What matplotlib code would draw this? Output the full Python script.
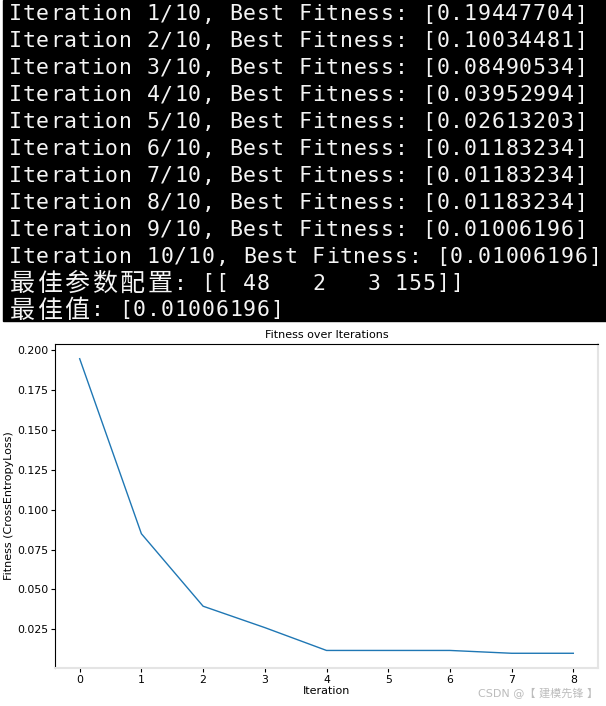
import numpy as np
import matplotlib.pyplot as plt
from matplotlib.patches import Rectangle

# data printed in the terminal
n_iter = 10
best_fitness = [0.19447704, 0.10034481, 0.08490534, 0.03952994, 0.02613203,
                0.01183234, 0.01183234, 0.01183234, 0.01006196, 0.01006196]
best_params = [48, 2, 3, 155]
best_value = 0.01006196

# data drawn in the plot
plot_iter = [0, 1, 2, 3, 4, 5, 6, 7, 8]
plot_fitness = [0.19447704, 0.08490534, 0.03952994, 0.02613203, 0.01183234,
                0.01183234, 0.01183234, 0.01006196, 0.01006196]

W, H = 606, 706
fig = plt.figure(figsize=(W / 100, H / 100), dpi=100)

# terminal screenshot part (pixel coords)
ax_t = fig.add_axes([0, 0, 1, 1])
ax_t.set_xlim(0, W)
ax_t.set_ylim(H, 0)
ax_t.set_axis_off()
ax_t.add_patch(Rectangle((3, 0), W - 3, 321, color='black', zorder=0))

lines = [f"Iteration {i + 1}/{n_iter}, Best Fitness: [{v:.8f}]"
         for i, v in enumerate(best_fitness)]
params_str = "[[" + " ".join(f"{p:3d}" for p in best_params) + "]]"
lines.append("最佳参数配置: " + params_str)
lines.append(f"最佳值: [{best_value:.8f}]")

col_w = 13.8
x0 = 8
y_first = 20.5
line_h = 26.9
fg = '#f4f4f4'


def draw_line(s, y):
    col = 0
    for ch in s:
        wide = ord(ch) > 0x2e80
        ncol = 2 if wide else 1
        if ch != ' ':
            xc = x0 + (col + ncol / 2) * col_w
            if wide:
                ax_t.text(xc, y + 1.5, ch, color=fg, fontsize=18,
                          family=['Noto Sans CJK SC', 'DejaVu Sans'],
                          ha='center', va='baseline')
            else:
                ax_t.text(xc, y, ch, color=fg, fontsize=15.5,
                          family=['DejaVu Sans Mono', 'Noto Sans CJK SC'],
                          ha='center', va='baseline')
        col += ncol


for i, s in enumerate(lines):
    draw_line(s, y_first + i * line_h)

# matplotlib plot part
ax = fig.add_axes([55 / W, 1 - 668 / H, (598 - 55) / W, (668 - 344) / H])
ax.plot(plot_iter, plot_fitness, color='#1f77b4', linewidth=1.0)
ax.set_title('Fitness over Iterations', fontsize=8, pad=4)
ax.set_xlabel('Iteration', fontsize=8, labelpad=1)
ax.set_ylabel('Fitness (CrossEntropyLoss)', fontsize=8, labelpad=2)
ax.set_yticks([0.025, 0.050, 0.075, 0.100, 0.125, 0.150, 0.175, 0.200])
ax.tick_params(labelsize=7.8, length=3, width=0.8, pad=2)
for side in ['left', 'top']:
    ax.spines[side].set_color('black')
for side in ['bottom', 'right']:
    ax.spines[side].set_color('#e4e4e4')
    ax.spines[side].set_linewidth(1.5)

fig.text(598 / W, 1 - 694 / H, 'CSDN @【 建模先锋 】', color='#bcbcbc',
         fontsize=8, ha='right', va='center',
         family=['DejaVu Sans', 'Noto Sans CJK SC'])

fig.savefig('out.png', dpi=100)
